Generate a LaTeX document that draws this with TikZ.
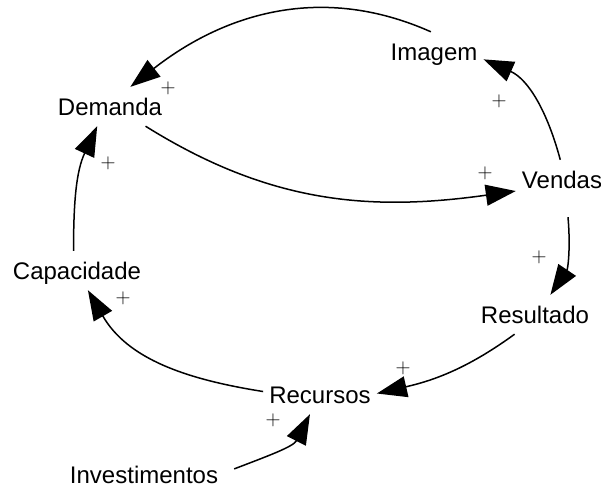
\documentclass[tikz,border=0pt]{standalone}
\usepackage{fontspec}
\setmainfont{Liberation Sans}
\usetikzlibrary{arrows.meta}

\tikzset{
    var/.style = {font=\fontsize{24}{28}\selectfont, text height=17pt, text depth=0pt, inner xsep=6pt, inner ysep=11pt},
    pol/.style = {font=\fontsize{21}{21}\selectfont, inner sep=0pt},
    link/.style = {line width=1.5pt, -{Triangle[length=30pt,width=21pt]}}
}

\begin{document}
\begin{tikzpicture}[x=1pt, y=-1pt]
    \useasboundingbox (0,0) rectangle (601,487);

    % Variables
    \node[var] (imagem) at (434,51.5) {Imagem};
    \node[var] (demanda) at (110,106.5) {Demanda};
    \node[var] (vendas) at (562,179.5) {Vendas};
    \node[var] (resultado) at (535,314.5) {Resultado};
    \node[var] (recursos) at (320,394.5) {Recursos};
    \node[var] (capacidade) at (77,270.5) {Capacidade};
    \node[var] (investimentos) at (144,474.5) {Investimentos};

    % Links
    \draw[link] (imagem.99) to[out=156, in=38] (demanda.44);
    \draw[link] (demanda.-29) to[out=-32, in=188] (vendas.194);
    \draw[link] (vendas.95) to[out=105, in=-24] (imagem.-9);
    \draw[link] ([shift={(6,18)}]vendas.south) to[out=-85, in=56] (resultado.52);
    \draw[link] (resultado.224) to[out=216, in=13] (recursos.1);
    \draw[link] (recursos.177) to[out=171, in=-60] (capacidade.-61);
    \draw[link] (capacidade.100) to[out=90, in=245] (demanda.237);
    \draw[link] ([xshift=10pt]investimentos.4) to[out=21, in=243] (recursos.243);

    % Polarities
    \node[pol] (p1) at (168,88) {$+$};
    \node[pol] (p2) at (108,163) {$+$};
    \node[pol] (p3) at (499,101) {$+$};
    \node[pol] (p4) at (485,173) {$+$};
    \node[pol] (p5) at (539,257) {$+$};
    \node[pol] (p6) at (403,368) {$+$};
    \node[pol] (p7) at (123,298) {$+$};
    \node[pol] (p8) at (273,420) {$+$};
\end{tikzpicture}
\end{document}
